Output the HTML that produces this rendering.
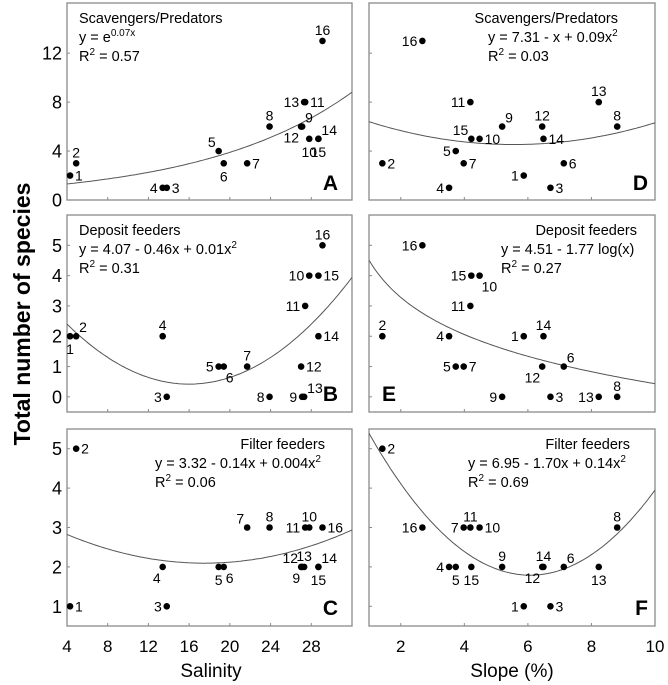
<!DOCTYPE html>
<html><head><meta charset="utf-8"><style>
html,body{margin:0;padding:0;background:#fff;}
svg{display:block;font-family:"Liberation Sans",Arial,sans-serif;}
</style></head><body>
<svg id="chart" width="668" height="685" viewBox="0 0 668 685" xmlns="http://www.w3.org/2000/svg">
<text x="0" y="0" transform="translate(30,314) rotate(-90)" text-anchor="middle" font-size="23" font-weight="bold">Total number of species</text>
<text x="211" y="677" text-anchor="middle" font-size="19">Salinity</text>
<text x="512" y="677" text-anchor="middle" font-size="19">Slope (%)</text>
</svg>
<script>
// site data (site numbers 1..16)
const sites = [1,2,3,4,5,6,7,8,9,10,11,12,13,14,15,16];
const salinity = [4.3,4.9,13.8,13.4,18.9,19.4,21.7,23.9,27.1,27.8,27.4,27.0,27.3,28.7,28.7,29.1];
const slope = [5.87,1.42,6.71,3.52,3.73,7.13,3.98,8.81,5.19,4.48,4.19,6.45,8.23,6.49,4.22,2.68];
const scavengers = [2,3,1,1,4,3,3,6,6,5,8,6,8,5,5,13];
const deposit = [2,2,0,2,1,1,1,0,0,4,3,1,0,2,4,5];
const filter = [1,5,1,2,2,2,3,3,2,3,3,2,2,2,2,3];
const salinityTicks = [4,8,12,16,20,24,28];
const slopeTicks = [2,4,6,8,10];
const ticksA = [0,4,8,12];
const ticksB = [0,1,2,3,4,5];
const ticksC = [1,2,3,4,5];
// fitted curve coefficients
const fitA = [0.068];            // y = e^(k x)
const fitB = [0.42, 16, 0.01375];// y = a + c (x-m)^2
const fitC = [3.32, -0.14, 0.004];
const fitD = [7.31, -1, 0.09];
const fitE = [4.51, -1.77];      // y = a + b ln x
const fitF = [6.95, -1.70, 0.14];

const NS="http://www.w3.org/2000/svg";
const svg=document.getElementById('chart');
function mk(tag,attrs,parent){const e=document.createElementNS(NS,tag);for(const k in attrs)e.setAttribute(k,attrs[k]);(parent||svg).appendChild(e);return e;}

const cols={L:{x0:67,x1:352,min:4,max:32},R:{x0:369,x1:655,min:1,max:10}};
const rows=[{y0:3,y1:200,min:0,max:16.1},{y0:215,y1:412,min:-0.5,max:6},{y0:429,y1:626,min:0.5,max:5.5}];

const panels=[
 {id:'A',col:'L',row:0,xv:salinity,yv:scavengers,yt:ticksA,xt:salinityTicks,
  f:x=>Math.exp(fitA[0]*x),
  lab:{1:'r',2:'t',3:'r',4:'l',5:'tl',6:'b',7:'r',8:'t',9:'tr',10:'b',11:'r',12:'bl',13:'l',14:'tr',15:'b',16:'t'},
  text:[['Scavengers/Predators'],['y = e','0.07x'],['R','2',' = 0.57']],tx:79,anchor:'start',letter:[338,190]},
 {id:'B',col:'L',row:1,xv:salinity,yv:deposit,yt:ticksB,xt:salinityTicks,
  f:x=>fitB[0]+fitB[2]*(x-fitB[1])*(x-fitB[1]),
  lab:{1:'b',2:'tr',3:'l',4:'t',5:'l',6:'br',7:'t',8:'l',9:'l',10:'l',11:'l',12:'r',13:'tr',14:'r',15:'r',16:'t'},
  text:[['Deposit feeders'],['y = 4.07 - 0.46x + 0.01x','2'],['R','2',' = 0.31']],tx:79,anchor:'start',letter:[338,401]},
 {id:'C',col:'L',row:2,xv:salinity,yv:filter,yt:ticksC,xt:salinityTicks,
  f:x=>fitC[0]+fitC[1]*x+fitC[2]*x*x,
  lab:{1:'r',2:'r',3:'l',4:'bl',5:'b',6:'br',7:'tl',8:'t',9:'bl',10:'t',11:'l',12:'tl',13:'t',14:'tr',15:'b',16:'r'},
  text:[['Filter feeders'],['y = 3.32 - 0.14x + 0.004x','2'],['R','2',' = 0.06']],tx:155,anchor:'start',titleEnd:325,letter:[338,615]},
 {id:'D',col:'R',row:0,xv:slope,yv:scavengers,yt:ticksA,xt:slopeTicks,
  f:x=>fitD[0]+fitD[1]*x+fitD[2]*x*x,
  lab:{1:'l',2:'r',3:'r',4:'l',5:'l',6:'r',7:'r',8:'t',9:'tr',10:'r',11:'l',12:'t',13:'t',14:'r',15:'tl',16:'l'},
  text:[['Scavengers/Predators'],['y = 7.31 - x + 0.09x','2'],['R','2',' = 0.03']],tx:488,anchor:'start',titleEnd:618,letter:[648,190]},
 {id:'E',col:'R',row:1,xv:slope,yv:deposit,yt:ticksB,xt:slopeTicks,
  f:x=>fitE[0]+fitE[1]*Math.log(x),
  lab:{1:'l',2:'t',3:'r',4:'l',5:'l',6:'tr',7:'r',8:'t',9:'l',10:'br',11:'l',12:'bl',13:'l',14:'t',15:'l',16:'l'},
  text:[['Deposit feeders'],['y = 4.51 - 1.77 log(x)'],['R','2',' = 0.27']],tx:501,anchor:'start',titleEnd:637,letter:[396,401]},
 {id:'F',col:'R',row:2,xv:slope,yv:filter,yt:ticksC,xt:slopeTicks,
  f:x=>fitF[0]+fitF[1]*x+fitF[2]*x*x,
  lab:{1:'l',2:'r',3:'r',4:'l',5:'b',6:'tr',7:'l',8:'t',9:'t',10:'r',11:'t',12:'bl',13:'b',14:'t',15:'b',16:'l'},
  text:[['Filter feeders'],['y = 6.95 - 1.70x + 0.14x','2'],['R','2',' = 0.69']],tx:468,anchor:'start',titleEnd:630,letter:[648,615]}
];

panels.forEach(p=>{
 const c=cols[p.col], r=rows[p.row];
 const sx=v=>c.x0+(v-c.min)/(c.max-c.min)*(c.x1-c.x0);
 const sy=v=>r.y1-(v-r.min)/(r.max-r.min)*(r.y1-r.y0);
 const g=mk('g',{});
 
 
 const clipId='clip'+p.id;
 const cp=mk('clipPath',{id:clipId},g);
 mk('rect',{x:c.x0,y:r.y0,width:c.x1-c.x0,height:r.y1-r.y0},cp);
 const fr=mk('rect',{x:c.x0,y:r.y0,width:c.x1-c.x0,height:r.y1-r.y0,fill:'none',stroke:'#8a8a8a','stroke-width':1.3},g);
 
 
 // x ticks
 p.xt.forEach(t=>{
  const x=sx(t);
  const tk=mk('line',{x1:x,x2:x,y1:r.y1,y2:r.y1-3,stroke:'#8a8a8a','stroke-width':1},g);
  
  
  if(p.row===2){
   const tl=mk('text',{x:x,y:652,'text-anchor':'middle','font-size':17},g);
   tl.textContent=t;
   
   
  }
 });
 // y ticks
 p.yt.forEach(t=>{
  const y=sy(t);
  const tk=mk('line',{x1:c.x0,x2:c.x0+3,y1:y,y2:y,stroke:'#8a8a8a','stroke-width':1},g);
  
  
  if(p.col==='L'){
   const tl=mk('text',{x:62,y:y+6.5,'text-anchor':'end','font-size':18},g);
   tl.textContent=t;
   
   
  }
 });
 // fit curve
 let d='';
 for(let i=0;i<=120;i++){const xv=c.min+(c.max-c.min)*i/120;d+=(i?'L':'M')+sx(xv).toFixed(1)+','+sy(p.f(xv)).toFixed(1);}
 const cv=mk('path',{d:d,fill:'none',stroke:'#555','stroke-width':1,'clip-path':'url(#'+clipId+')'},g);
 
 
 // points
 sites.forEach((s,i)=>{
  const x=sx(p.xv[i]), y=sy(p.yv[i]);
  const dot=mk('circle',{cx:x,cy:y,r:3.3,fill:'#000'},g);
  
  
  const pos=p.lab[s]||'r';
  let tx=x,ty=y+5,an='start';
  if(pos==='r'){tx=x+5;}
  else if(pos==='l'){tx=x-5;an='end';}
  else if(pos==='t'){an='middle';ty=y-6;}
  else if(pos==='b'){an='middle';ty=y+18;}
  else if(pos==='tr'){tx=x+3;ty=y-4;}
  else if(pos==='tl'){tx=x-3;ty=y-4;an='end';}
  else if(pos==='br'){tx=x+2;ty=y+16;}
  else if(pos==='bl'){tx=x-2;ty=y+16;an='end';}
  const lt=mk('text',{x:tx,y:ty,'text-anchor':an,'font-size':14},g);
  lt.textContent=s;
  
  
 });
 // annotation text
 const baseY=r.y0+20;
 p.text.forEach((parts,li)=>{
  const y=baseY+li*19;
  let attrs={y:y,'font-size':14.5};
  if(li===0 && p.titleEnd){attrs.x=p.titleEnd;attrs['text-anchor']='end';}
  else attrs.x=p.tx;
  const t=mk('text',attrs,g);
  
  
  parts.forEach((s,k)=>{
   const ts=mk('tspan',{},t);
   const sup=(k%2===1);
   if(sup){ts.setAttribute('font-size','10');ts.setAttribute('dy','-6');}
   else if(k>0){ts.setAttribute('dy','6');}
   ts.textContent=s;
  });
 });
 const L=mk('text',{x:p.letter[0],y:p.letter[1],'text-anchor':'end','font-size':21,'font-weight':'bold'},g);
 L.textContent=p.id;
 
 
});
</script>
</body></html>
